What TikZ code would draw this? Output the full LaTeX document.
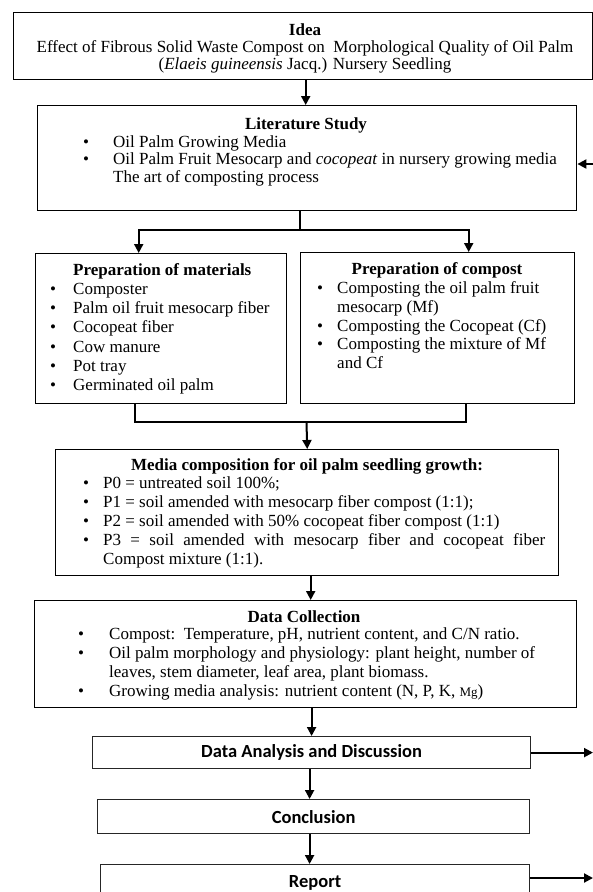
\documentclass[tikz,border=0pt]{standalone}
\usepackage{fontspec}
\setmainfont{Liberation Serif}
\newfontfamily\calib{Carlito}
\usetikzlibrary{arrows.meta}
\newcommand\bl[1]{\makebox[#1][l]{\textbullet}}
\tikzset{
  box/.style={draw=black, line width=1.4pt, inner sep=0pt, anchor=north west},
  sbox/.style={draw=black!85, line width=1.2pt, inner sep=0pt, anchor=north west,
    font=\calib\bfseries\fontsize{18.5}{20}\selectfont},
  txt/.style={inner sep=0pt, font=\fontsize{17}{19}\selectfont},
  conn/.style={line width=2pt, black},
  arr/.style={conn, -{Triangle[length=9pt,width=9pt]}}
}
\begin{document}
\begin{tikzpicture}[x=1pt,y=-1pt]
\clip (0,0) rectangle (593,892);
\fill[white] (0,0) rectangle (593,892);

% Idea
\node[box, minimum width=579, minimum height=67] (idea) at (13,12) {};
\node[txt, font=\fontsize{17}{17}\selectfont, anchor=base] (ideaT) at (305,35)
  {\begin{tabular}[t]{@{}c@{}}\textbf{Idea}\\
   Effect of Fibrous Solid Waste Compost on\ \ Morphological Quality of Oil Palm\\
   (\textit{Elaeis guineensis} Jacq.) Nursery Seedling\end{tabular}};

% Literature study
\node[box, minimum width=539, minimum height=105] (lit) at (37,105) {};
\node[txt, anchor=base] (litH) at (306,129.5) {\textbf{Literature Study}};
\node[txt, font=\fontsize{17}{17.7}\selectfont, anchor=base west] (litT) at (83,147)
  {\begin{tabular}[t]{@{}l@{}l@{}}
   \bl{30pt}&Oil Palm Growing Media\\
   \bl{30pt}&Oil Palm Fruit Mesocarp and \textit{cocopeat}\ in nursery growing media\\
   &The art of composting process\end{tabular}};

% Preparation of materials
\node[box, minimum width=251, minimum height=150] (mat) at (35,253) {};
\node[txt, anchor=base west] (matH) at (73,275.5) {\textbf{Preparation of materials}};
\node[txt, font=\fontsize{17}{19.2}\selectfont, anchor=base west] (matT) at (50,294.5)
  {\begin{tabular}[t]{@{}l@{}l@{}}
   \bl{23pt}&Composter\\
   \bl{23pt}&Palm oil fruit mesocarp fiber\\
   \bl{23pt}&Cocopeat fiber\\
   \bl{23pt}&Cow manure\\
   \bl{23pt}&Pot tray\\
   \bl{23pt}&Germinated oil palm\end{tabular}};

% Preparation of compost
\node[box, minimum width=274, minimum height=151] (comp) at (300,252) {};
\node[txt, anchor=base] (compH) at (437,274.5) {\textbf{Preparation of compost}};
\node[txt, font=\fontsize{17}{18.8}\selectfont, anchor=base west] (compT) at (317,293.5)
  {\begin{tabular}[t]{@{}l@{}l@{}}
   \bl{20pt}&Composting the oil palm fruit\\
   &mesocarp (Mf)\\
   \bl{20pt}&Composting the Cocopeat (Cf)\\
   \bl{20pt}&Composting the mixture of Mf\\
   &and Cf\end{tabular}};

% Media composition
\node[box, minimum width=503, minimum height=126] (media) at (55,449) {};
\node[txt, anchor=base] (mediaH) at (307,470.5) {\textbf{Media composition for oil palm seedling growth:}};
\node[txt, anchor=base west] (mediaT) at (83,488.5)
  {\begin{tabular}[t]{@{}l@{}l@{}}
   \bl{20pt}&P0 = untreated soil 100\%;\\
   \bl{20pt}&P1 = soil amended with mesocarp fiber compost (1:1);\\
   \bl{20pt}&P2 = soil amended with 50\% cocopeat fiber compost (1:1)\\
   \bl{20pt}&\makebox[442pt][s]{P3 = soil amended with mesocarp fiber and cocopeat fiber}\\
   &Compost mixture (1:1).\end{tabular}};

% Data collection
\node[box, minimum width=542, minimum height=107] (dc) at (34,600) {};
\node[txt, anchor=base] (dcH) at (304,622.5) {\textbf{Data Collection}};
\node[txt, anchor=base west] (dcT) at (78,639.5)
  {\begin{tabular}[t]{@{}l@{}l@{}}
   \bl{31pt}&Compost:\ \ Temperature, pH, nutrient content, and C/N ratio.\\
   \bl{31pt}&Oil palm morphology and physiology: plant height, number of\\
   &leaves, stem diameter, leaf area, plant biomass.\\
   \bl{31pt}&Growing media analysis: nutrient content (N, P, K, {\fontsize{13}{15}\selectfont Mg})\end{tabular}};

% Bottom boxes
\node[sbox, minimum width=438, minimum height=32] (da) at (92,736) {Data Analysis and Discussion};
\node[sbox, minimum width=432, minimum height=34] (con) at (97,799) {Conclusion};
\node[sbox, minimum width=429, minimum height=36] (rep) at (100,864) {Report};

% Connectors
\draw[arr] ([xshift=2.5pt]idea.south) -- ([xshift=2.5pt]idea.south |- lit.north);
\coordinate (in1) at (593,164);
\draw[arr] (in1) -- (in1 -| lit.east);

\coordinate (split) at (300,230);
\draw[conn] (split |- lit.south) -- (split);
\draw[arr] ([xshift=-22.5pt]mat.north |- split) -- ([xshift=-22.5pt]mat.north);
\draw[arr] ([xshift=31pt]comp.north |- split) -- ([xshift=31pt]comp.north);
\draw[conn, line cap=rect] ([xshift=-22.5pt]mat.north |- split) -- ([xshift=31pt]comp.north |- split);

\coordinate (merge) at (306.5,422);
\draw[conn, line cap=rect] ([xshift=-26.5pt]mat.south) |- (merge) -| ([xshift=28pt]comp.south);
\draw[arr] (merge) -- (media.north);

\draw[arr] ([xshift=3.5pt]media.south) -- ([xshift=3.5pt]media.south |- dc.north);
\draw[arr] (dc.south -| da.north) -- (da.north);
\draw[arr] ([xshift=-2pt]da.south) -- ([xshift=-2pt]da.south |- con.north);
\draw[arr] ([xshift=-4pt]con.south) -- ([xshift=-4pt]con.south |- rep.north);

\coordinate (out1) at (593,752);
\draw[arr] (da.east) -- (da.east -| out1);
\coordinate (out2) at (593,878);
\draw[arr] (rep.east |- out2) -- (out2);
\end{tikzpicture}
\end{document}
